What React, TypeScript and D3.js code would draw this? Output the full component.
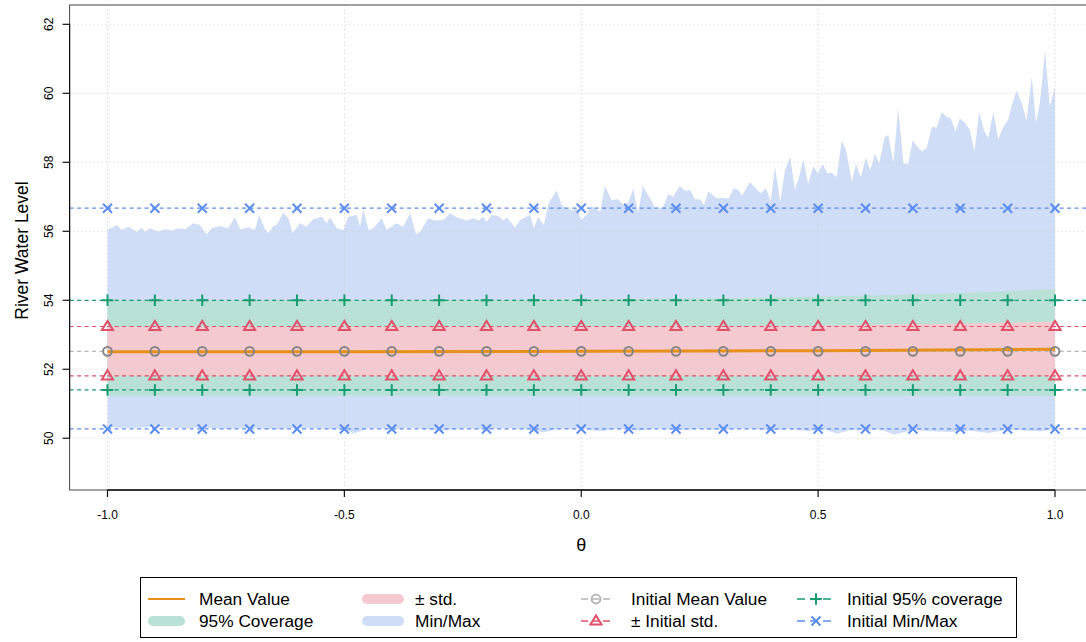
import * as d3 from 'd3'

const FONT = '"Liberation Sans", Arial, Helvetica, sans-serif'

// ticks
const xTicks = [-1, -0.5, 0, 0.5, 1]
const xTickLabels = ['-1.0', '-0.5', '0.0', '0.5', '1.0']
const yTicks = [50, 52, 54, 56, 58, 60, 62]

// positions of the symbols on the initial reference lines
const markerTheta = [
  -1.0, -0.9, -0.8, -0.7, -0.6, -0.5, -0.4, -0.3, -0.2, -0.1, 0.0,
  0.1, 0.2, 0.3, 0.4, 0.5, 0.6, 0.7, 0.8, 0.9, 1.0,
]

// smooth bands
const bandTheta = [-1, -0.5, 0, 0.25, 0.5, 0.75, 1]
const meanValue = [52.51, 52.51, 52.52, 52.53, 52.54, 52.56, 52.58]
const stdUpper = [53.23, 53.23, 53.24, 53.25, 53.27, 53.31, 53.38]
const stdLower = [51.81, 51.81, 51.81, 51.81, 51.81, 51.81, 51.8]
const coverageUpper = [54.0, 54.01, 54.03, 54.06, 54.1, 54.18, 54.32]
const coverageLower = [51.23, 51.23, 51.23, 51.23, 51.23, 51.23, 51.22]

// initial values (horizontal reference lines)
const initMean = 52.52
const initStd = [51.81, 53.24]
const initCoverage = [51.4, 54.0]
const initMinMax = [50.27, 56.67]

// [theta, value]
const maxEnvelope: [number, number][] = [
  [-1.0, 56.04], [-0.98, 56.18], [-0.97, 56.04], [-0.956, 56.13], [-0.938, 55.99], [-0.928, 56.1],
  [-0.921, 55.99], [-0.91, 56.09], [-0.893, 55.99], [-0.879, 56.06], [-0.864, 56.02], [-0.851, 56.09],
  [-0.836, 56.06], [-0.819, 56.23], [-0.805, 56.18], [-0.791, 55.91], [-0.78, 56.09], [-0.763, 56.15],
  [-0.745, 56.09], [-0.731, 56.41], [-0.72, 56.06], [-0.703, 56.12], [-0.689, 56.04], [-0.68, 56.47],
  [-0.668, 56.09], [-0.66, 55.94], [-0.65, 56.15], [-0.643, 56.18], [-0.629, 56.54], [-0.618, 56.38],
  [-0.609, 55.94], [-0.594, 56.23], [-0.58, 56.13], [-0.566, 56.35], [-0.548, 56.42], [-0.537, 56.23],
  [-0.53, 56.41], [-0.516, 56.09], [-0.502, 56.04], [-0.492, 56.42], [-0.474, 56.47], [-0.467, 56.15],
  [-0.46, 56.64], [-0.449, 56.04], [-0.439, 56.09], [-0.421, 56.38], [-0.411, 56.04], [-0.39, 56.23],
  [-0.376, 56.13], [-0.361, 56.52], [-0.349, 55.92], [-0.34, 55.99], [-0.323, 56.38], [-0.309, 56.31],
  [-0.291, 56.33], [-0.277, 56.52], [-0.263, 56.41], [-0.242, 56.31], [-0.228, 56.38], [-0.217, 56.31],
  [-0.207, 56.42], [-0.2, 56.28], [-0.189, 56.47], [-0.175, 56.44], [-0.164, 56.31], [-0.157, 56.41],
  [-0.14, 56.1], [-0.129, 56.33], [-0.108, 56.47], [-0.1, 56.09], [-0.091, 56.42], [-0.079, 56.18],
  [-0.069, 56.81], [-0.052, 57.18], [-0.041, 56.76], [-0.031, 56.67], [-0.017, 56.6], [-0.01, 56.7],
  [0.0, 56.33], [0.011, 56.47], [0.022, 56.73], [0.04, 56.57], [0.05, 57.31], [0.064, 56.91],
  [0.078, 56.93], [0.089, 56.76], [0.099, 56.83], [0.11, 57.25], [0.12, 56.52], [0.13, 57.31],
  [0.145, 56.96], [0.159, 56.62], [0.173, 56.71], [0.184, 57.08], [0.194, 57.0], [0.208, 57.31],
  [0.219, 57.17], [0.23, 57.2], [0.24, 56.93], [0.251, 56.93], [0.259, 56.76], [0.268, 57.15],
  [0.286, 56.96], [0.3, 56.97], [0.311, 56.94], [0.321, 57.25], [0.332, 57.2], [0.339, 57.03],
  [0.356, 57.43], [0.368, 57.25], [0.379, 57.1], [0.39, 57.25], [0.4, 56.86], [0.409, 57.87],
  [0.42, 56.86], [0.43, 57.78], [0.441, 58.16], [0.451, 57.2], [0.462, 57.68], [0.469, 58.09],
  [0.479, 57.37], [0.49, 57.89], [0.499, 57.68], [0.51, 57.95], [0.519, 57.68], [0.529, 57.7],
  [0.539, 57.57], [0.55, 58.63], [0.559, 58.36], [0.571, 57.44], [0.58, 57.95], [0.59, 57.57],
  [0.601, 58.14], [0.61, 57.76], [0.62, 58.24], [0.629, 57.97], [0.64, 58.72], [0.648, 58.79],
  [0.659, 57.99], [0.669, 59.57], [0.68, 57.97], [0.69, 57.95], [0.7, 58.65], [0.708, 58.47],
  [0.719, 58.31], [0.729, 58.41], [0.74, 59.03], [0.75, 59.01], [0.761, 59.44], [0.771, 59.32],
  [0.78, 59.27], [0.79, 58.89], [0.799, 59.27], [0.81, 59.15], [0.82, 58.94], [0.83, 58.31],
  [0.84, 59.47], [0.85, 58.92], [0.859, 58.7], [0.87, 59.47], [0.88, 58.67], [0.891, 59.03],
  [0.901, 59.23], [0.909, 59.66], [0.919, 60.08], [0.93, 59.71], [0.94, 59.21], [0.951, 60.48],
  [0.96, 59.13], [0.968, 59.71], [0.979, 61.25], [0.989, 59.61], [1.0, 60.19],
]

// [theta, value]
const minEnvelope: [number, number][] = [
  [-1.0, 50.32], [-0.95, 50.3], [-0.9, 50.33], [-0.85, 50.29], [-0.8, 50.31], [-0.75, 50.27],
  [-0.7, 50.3], [-0.65, 50.26], [-0.6, 50.3], [-0.55, 50.28], [-0.5, 50.25], [-0.48, 50.14],
  [-0.45, 50.29], [-0.4, 50.27], [-0.35, 50.3], [-0.3, 50.22], [-0.25, 50.28], [-0.2, 50.26],
  [-0.15, 50.29], [-0.1, 50.24], [-0.08, 50.17], [-0.05, 50.27], [0.0, 50.28], [0.04, 50.2],
  [0.08, 50.28], [0.12, 50.22], [0.16, 50.28], [0.2, 50.23], [0.25, 50.27], [0.3, 50.24],
  [0.35, 50.28], [0.4, 50.22], [0.44, 50.27], [0.48, 50.2], [0.51, 50.27], [0.54, 50.13],
  [0.57, 50.25], [0.6, 50.24], [0.63, 50.26], [0.66, 50.11], [0.7, 50.24], [0.74, 50.2],
  [0.78, 50.18], [0.82, 50.22], [0.86, 50.15], [0.9, 50.25], [0.94, 50.22], [0.97, 50.2],
  [1.0, 50.27],
]

const ORANGE = '#E8901C'
const GREEN = '#179C70'
const RED = '#E0506A'
const BLUE = '#5B8DEF'
const GRAY = '#858585'
const GRAY_LINE = '#b5b5b5'
const FILL_BLUE = '#D0DDF6'
const FILL_GREEN = '#BAE1D5'
const FILL_RED = '#F4C9D0'

type Kind = 'circle' | 'triangle' | 'plus' | 'cross'

function Marker({ kind, cx, cy, color }: { kind: Kind; cx: number; cy: number; color: string }) {
  if (kind === 'circle')
    return <circle cx={cx} cy={cy} r={4.4} fill="none" stroke={color} strokeWidth={2} />
  if (kind === 'triangle')
    return (
      <path
        d={`M${cx},${cy - 5.6}L${cx + 5.6},${cy + 3.6}L${cx - 5.6},${cy + 3.6}Z`}
        fill="none"
        stroke={color}
        strokeWidth={2}
        strokeLinejoin="miter"
      />
    )
  if (kind === 'plus')
    return (
      <path d={`M${cx - 5.8},${cy}H${cx + 5.8}M${cx},${cy - 5.8}V${cy + 5.8}`} stroke={color} strokeWidth={2} />
    )
  return (
    <path
      d={`M${cx - 4.5},${cy - 4.5}L${cx + 4.5},${cy + 4.5}M${cx - 4.5},${cy + 4.5}L${cx + 4.5},${cy - 4.5}`}
      stroke={color}
      strokeWidth={2}
    />
  )
}

export default function App() {
  const left = 69.6
  const right = 1092.9
  const top = 5
  const bottom = 490

  const x = d3.scaleLinear().domain([-1.08, 1.08]).range([left, right])
  const y = d3.scaleLinear().domain([48.5, 62.56]).range([bottom, top])

  const band = (lo: number[], hi: number[]) =>
    d3
      .area<number>()
      .x((_, i) => x(bandTheta[i]))
      .y0((_, i) => y(lo[i]))
      .y1((_, i) => y(hi[i]))(bandTheta.map((_, i) => i)) || ''

  const poly = d3
    .line<[number, number]>()
    .x((d) => x(d[0]))
    .y((d) => y(d[1]))
  const minMaxPath = (poly([...maxEnvelope, ...[...minEnvelope].reverse()]) || '') + 'Z'

  const meanLine =
    d3
      .line<number>()
      .x((_, i) => x(bandTheta[i]))
      .y((_, i) => y(meanValue[i]))(bandTheta.map((_, i) => i)) || ''

  const refLines: { v: number; color: string; kind: Kind }[] = [
    { v: initMinMax[1], color: BLUE, kind: 'cross' },
    { v: initMinMax[0], color: BLUE, kind: 'cross' },
    { v: initCoverage[1], color: GREEN, kind: 'plus' },
    { v: initCoverage[0], color: GREEN, kind: 'plus' },
    { v: initStd[1], color: RED, kind: 'triangle' },
    { v: initStd[0], color: RED, kind: 'triangle' },
  ]

  const row1 = 599
  const row2 = 621
  const legendText = { fontFamily: FONT, fontSize: 17.3, fill: '#000' }

  return (
    <svg
      width={1086}
      height={642}
      style={{ position: 'absolute', left: 0, top: 0, background: '#fff' }}
      fontFamily={FONT}
    >
      <defs>
        <clipPath id="plot-clip">
          <rect x={left} y={top} width={right - left} height={bottom - top} />
        </clipPath>
      </defs>

      <g clipPath="url(#plot-clip)">
        {/* bands */}
        <path d={minMaxPath} fill={FILL_BLUE} />
        <path d={band(coverageLower, coverageUpper)} fill={FILL_GREEN} />
        <path d={band(stdLower, stdUpper)} fill={FILL_RED} />

        {/* grid */}
        {xTicks.map((t) => (
          <line key={'gx' + t} x1={x(t)} x2={x(t)} y1={top} y2={bottom} stroke="#cfcfcf" strokeDasharray="1 3" />
        ))}
        {yTicks.map((t) => (
          <line key={'gy' + t} x1={left} x2={right} y1={y(t)} y2={y(t)} stroke="#cfcfcf" strokeDasharray="1 3" />
        ))}

        {/* initial reference lines */}
        <line x1={left} x2={right} y1={y(initMean)} y2={y(initMean)} stroke={GRAY_LINE} strokeWidth={1.2} strokeDasharray="4 3.5" />
        {refLines.map((r, i) => (
          <line key={'rl' + i} x1={left} x2={right} y1={y(r.v)} y2={y(r.v)} stroke={r.color} strokeWidth={1.2} strokeDasharray="4 3.5" />
        ))}

        {/* mean value */}
        <path d={meanLine} fill="none" stroke={ORANGE} strokeWidth={3} />

        {/* markers */}
        {markerTheta.map((t) => (
          <Marker key={'mm' + t} kind="circle" cx={x(t)} cy={y(initMean)} color={GRAY} />
        ))}
        {refLines.map((r, i) =>
          markerTheta.map((t) => <Marker key={'m' + i + '_' + t} kind={r.kind} cx={x(t)} cy={y(r.v)} color={r.color} />),
        )}
      </g>

      {/* box */}
      <rect x={left} y={top} width={right - left} height={bottom - top} fill="none" stroke="#444" strokeWidth={1} />

      {/* y axis */}
      <line x1={left} x2={left} y1={y(yTicks[0])} y2={y(yTicks[yTicks.length - 1])} stroke="#111" strokeWidth={1.2} />
      {yTicks.map((t) => (
        <g key={'yt' + t}>
          <line x1={left - 7} x2={left} y1={y(t)} y2={y(t)} stroke="#111" strokeWidth={1.2} />
          <text
            transform={`translate(52.5,${y(t)}) rotate(-90)`}
            textAnchor="middle"
            fontSize={12}
            fill="#000"
          >
            {t}
          </text>
        </g>
      ))}
      <text transform={`translate(28,${(top + bottom) / 2 + 3}) rotate(-90)`} textAnchor="middle" fontSize={17.5} fill="#000">
        River Water Level
      </text>

      {/* x axis */}
      <line x1={x(-1)} x2={x(1)} y1={bottom} y2={bottom} stroke="#111" strokeWidth={1.6} />
      {xTicks.map((t, i) => (
        <g key={'xt' + t}>
          <line x1={x(t)} x2={x(t)} y1={bottom} y2={bottom + 7} stroke="#111" strokeWidth={1.2} />
          <text x={x(t)} y={519} textAnchor="middle" fontSize={12} fill="#000">
            {xTickLabels[i]}
          </text>
        </g>
      ))}
      <text x={x(0)} y={551} textAnchor="middle" fontSize={18} fill="#000">
        θ
      </text>

      {/* legend */}
      <rect x={140.5} y={577.5} width={876} height={60} fill="#fff" stroke="#000" strokeWidth={1} />

      <line x1={148} x2={185} y1={row1} y2={row1} stroke={ORANGE} strokeWidth={2.2} />
      <text x={199} y={row1 + 6} {...legendText}>Mean Value</text>
      <rect x={148} y={row2 - 5} width={37} height={10} rx={5} fill={FILL_GREEN} />
      <text x={199} y={row2 + 6} {...legendText}>95% Coverage</text>

      <rect x={362} y={row1 - 5} width={42} height={10} rx={5} fill={FILL_RED} />
      <text x={415} y={row1 + 6} {...legendText}>± std.</text>
      <rect x={362} y={row2 - 5} width={42} height={10} rx={5} fill={FILL_BLUE} />
      <text x={415} y={row2 + 6} {...legendText}>Min/Max</text>

      <line x1={581} x2={611} y1={row1} y2={row1} stroke={GRAY_LINE} strokeWidth={1.5} strokeDasharray="7 4" />
      <Marker kind="circle" cx={596} cy={row1} color={GRAY_LINE} />
      <text x={631} y={row1 + 6} {...legendText}>Initial Mean Value</text>
      <line x1={581} x2={611} y1={row2} y2={row2} stroke={RED} strokeWidth={1.5} strokeDasharray="7 4" />
      <Marker kind="triangle" cx={596} cy={row2} color={RED} />
      <text x={631} y={row2 + 6} {...legendText}>± Initial std.</text>

      <line x1={797} x2={835} y1={row1} y2={row1} stroke={GREEN} strokeWidth={1.5} strokeDasharray="8 5" />
      <Marker kind="plus" cx={816} cy={row1} color={GREEN} />
      <text x={847} y={row1 + 6} {...legendText}>Initial 95% coverage</text>
      <line x1={797} x2={835} y1={row2} y2={row2} stroke={BLUE} strokeWidth={1.5} strokeDasharray="8 5" />
      <Marker kind="cross" cx={816} cy={row2} color={BLUE} />
      <text x={847} y={row2 + 6} {...legendText}>Initial Min/Max</text>
    </svg>
  )
}
